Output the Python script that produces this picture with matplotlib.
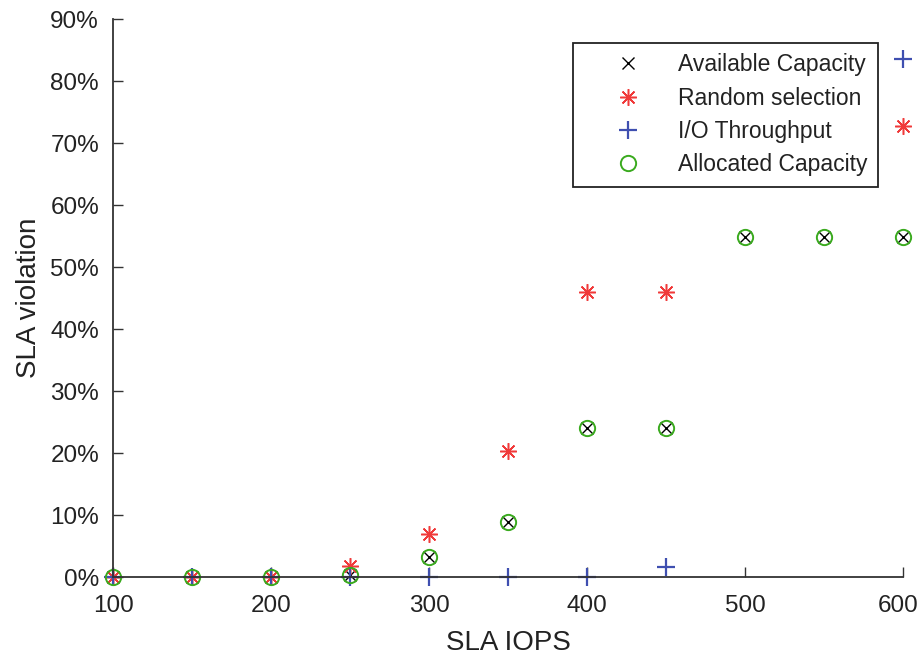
import numpy as np
import matplotlib
matplotlib.use("Agg")
import matplotlib.pyplot as plt
import matplotlib.transforms as mtransforms

# SLA IOPS values and violation percentages
iops = [100, 150, 200, 250, 300, 350, 400, 450, 500, 550, 600]
available = [0, 0, 0, 0.4, 3.2, 8.8, 24.0, 24.1, 54.8, 54.9, 54.9]
random_sel = [0, 0, 0, 1.7, 6.9, 20.3, 45.9, 45.9, 72.7, 72.7, 72.7]
io_thru = [0, 0, 0, 0, 0, 0, 0, 1.6, 83.6, 83.6, 83.6]
allocated = [0, 0, 0, 0.4, 3.2, 8.8, 24.0, 24.1, 54.8, 54.9, 54.9]

yticks = [0, 10, 20, 30, 40, 50, 60, 70, 80, 90]
xticks = [100, 200, 300, 400, 500, 600]

plt.rcParams['font.family'] = ['Liberation Sans', 'DejaVu Sans']
txt = '#222222'

fig = plt.figure(figsize=(9.21, 6.56), dpi=100)
ax = fig.add_axes([0.1227, 0.1204, 0.858, 0.8506])

ax.plot(iops, available, linestyle='none', marker='x', color='black',
        markersize=8, markeredgewidth=1.0, label='Available Capacity', clip_on=False)
ax.plot(iops, random_sel, linestyle='none', marker=(8, 2, 0), color='#f03a3a',
        markersize=12, markeredgewidth=1.1, label='Random selection', clip_on=False)
ax.plot(iops, io_thru, linestyle='none', marker='+', color='#3f4fb0',
        markersize=13, markeredgewidth=1.6, label='I/O Throughput', clip_on=False)
ax.plot(iops, allocated, linestyle='none', marker='o', markerfacecolor='none',
        markeredgecolor='#3aaa1e', markersize=11, markeredgewidth=1.4,
        label='Allocated Capacity', clip_on=False)

ax.set_xlim(100, 600)
ax.set_ylim(0, 90)
ax.set_xticks(xticks)
ax.set_yticks(yticks)
ax.set_yticklabels(['%d%%' % v for v in yticks])
ax.tick_params(direction='in', length=7, width=1, labelsize=17.5, colors='#333333',
               labelcolor=txt)
ax.tick_params(axis='x', pad=13)
ax.tick_params(axis='y', pad=10)
for s in ['top', 'right']:
    ax.spines[s].set_visible(False)
for s in ['left', 'bottom']:
    ax.spines[s].set_linewidth(1.3)
    ax.spines[s].set_color('#333333')

# nudge the last x label so it stays inside the image
last = ax.get_xticklabels()[-1]
last.set_transform(last.get_transform() +
                   mtransforms.ScaledTranslation(-5 / 100, 0, fig.dpi_scale_trans))

ax.set_xlabel('SLA IOPS', fontsize=20, color=txt, labelpad=9)
ax.set_ylabel('SLA violation', fontsize=20, color=txt, labelpad=6)

leg = ax.legend(loc='upper right', bbox_to_anchor=(0.968, 0.957), fontsize=16.5,
                fancybox=False, framealpha=1, edgecolor='#222222',
                handlelength=3.9, handletextpad=0.25, labelspacing=0.45,
                borderpad=0.45, borderaxespad=0)
leg.get_frame().set_linewidth(1.3)
for t in leg.get_texts():
    t.set_color(txt)

fig.savefig('out.png', dpi=100)
